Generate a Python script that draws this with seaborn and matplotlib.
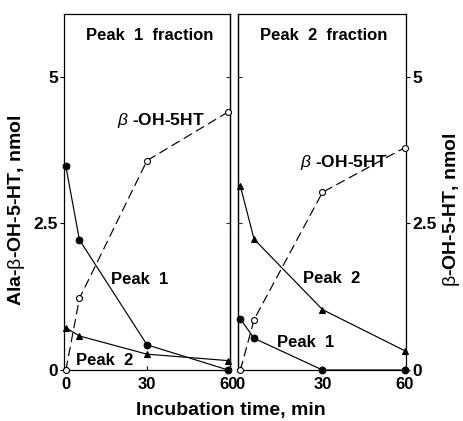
import matplotlib
matplotlib.use('Agg')
import matplotlib.pyplot as plt
import seaborn as sns

# ---- data ----
time_min = [0, 5, 30, 60]
# Peak 1 fraction panel
f1_peak1 = [3.47, 2.22, 0.43, 0.0]
f1_peak2 = [0.72, 0.58, 0.27, 0.16]
f1_oh5ht = [0.0, 1.22, 3.57, 4.40]
# Peak 2 fraction panel
f2_peak1 = [0.87, 0.54, 0.0, 0.0]
f2_peak2 = [3.13, 2.23, 1.03, 0.33]
f2_oh5ht = [0.0, 0.86, 3.03, 3.79]

x_ticks = [0, 30, 60]
x_tick_labels = ['0', '30', '60']
y_ticks = [0, 2.5, 5]
y_tick_labels = ['0', '2.5', '5']
panel_titles = ['Peak  1  fraction', 'Peak  2  fraction']

sns.set_theme(style='ticks')
plt.rcParams['font.family'] = ['Liberation Sans', 'DejaVu Sans']
plt.rcParams['mathtext.fontset'] = 'custom'
plt.rcParams['mathtext.rm'] = 'Liberation Sans:weight=normal'
plt.rcParams['mathtext.it'] = 'Liberation Sans:italic:weight=normal'
plt.rcParams['mathtext.bf'] = 'Liberation Sans:bold'

W, H = 464, 421
fig = plt.figure(figsize=(W / 100, H / 100), dpi=100)
fig.patch.set_facecolor('white')
ax1 = fig.add_axes([64 / W, 51 / H, 166 / W, 356 / H])
ax2 = fig.add_axes([238.5 / W, 51 / H, 168 / W, 356 / H])


def draw(ax, y, marker, face, ms, ls):
    sns.lineplot(x=time_min, y=y, ax=ax, color='black', linewidth=0.85,
                 linestyle=ls, marker=marker, markersize=ms,
                 markerfacecolor=face, markeredgecolor='black',
                 markeredgewidth=0.8, clip_on=False, legend=False, zorder=3)


dash = (0, (8, 4))
draw(ax1, f1_oh5ht, 'o', 'white', 4.3, dash)
draw(ax1, f1_peak1, 'o', 'black', 4.8, '-')
draw(ax1, f1_peak2, '^', 'black', 4.5, '-')
draw(ax2, f2_oh5ht, 'o', 'white', 4.3, dash)
draw(ax2, f2_peak1, 'o', 'black', 4.8, '-')
draw(ax2, f2_peak2, '^', 'black', 4.5, '-')

for ax in (ax1, ax2):
    ax.set_xlim(-0.7, 60.7)
    ax.set_ylim(0, 6.07)
    ax.set_xticks(x_ticks, x_tick_labels)
    ax.set_yticks(y_ticks, y_tick_labels)
    ax.set_xlabel('')
    ax.set_ylabel('')
    ax.set_facecolor('white')
    for s in ax.spines.values():
        s.set_visible(True)
        s.set_color('black')
        s.set_linewidth(0.9)
    ax.tick_params(axis='x', direction='in', length=3, width=0.8, pad=5,
                   labelsize=12, colors='black', bottom=True, top=False)

# left panel: outer ticks out with labels, inner ticks in
ax1.tick_params(axis='y', direction='out', length=3, width=0.8, pad=1.5,
                labelsize=12.5, colors='black', left=True, right=False,
                labelleft=True, labelright=False)
sec1 = ax1.secondary_yaxis('right')
sec1.set_yticks(y_ticks)
sec1.tick_params(direction='in', length=3, width=0.8, labelright=False)
sec1.spines['right'].set_linewidth(0.9)

# right panel: labels on right
ax2.yaxis.tick_right()
ax2.tick_params(axis='y', direction='out', length=3, width=0.8, pad=1.5,
                labelsize=12.5, colors='black', left=False, right=True,
                labelleft=False, labelright=True)
sec2 = ax2.secondary_yaxis('left')
sec2.set_yticks(y_ticks)
sec2.tick_params(direction='in', length=3, width=0.8, labelleft=False)
sec2.spines['left'].set_linewidth(0.9)

for ax in (ax1, ax2):
    for lab in ax.get_xticklabels() + ax.get_yticklabels():
        lab.set_fontweight('bold')

tk = dict(ha='center', va='center', fontsize=12, fontweight='bold', color='black')
bk = dict(tk, fontsize=12.5)
ax1.text(0.518, 0.941, panel_titles[0], transform=ax1.transAxes, **tk)
ax1.text(0.584, 0.702, r'$\beta$ -OH-5HT', transform=ax1.transAxes, **bk)
ax1.text(0.458, 0.253, 'Peak  1', transform=ax1.transAxes, **tk)
ax1.text(0.247, 0.027, 'Peak  2', transform=ax1.transAxes, **tk)
ax2.text(0.506, 0.941, panel_titles[1], transform=ax2.transAxes, **tk)
ax2.text(0.625, 0.584, r'$\beta$ -OH-5HT', transform=ax2.transAxes, **bk)
ax2.text(0.554, 0.256, 'Peak  2', transform=ax2.transAxes, **tk)
ax2.text(0.402, 0.076, 'Peak  1', transform=ax2.transAxes, **tk)

lk = dict(ha='center', va='center', fontsize=14, fontweight='bold', color='black')
fig.text(231 / W, 1 - 411 / H, 'Incubation time, min', **lk)
fig.text(17 / W, 1 - 210 / H, r'Ala-$\mathrm{\beta}$-OH-5-HT, nmol', rotation=90, **lk)
fig.text(452 / W, 1 - 210 / H, r'$\mathrm{\beta}$-OH-5-HT, nmol', rotation=90, **lk)

fig.savefig('out.png', dpi=100, facecolor='white')
